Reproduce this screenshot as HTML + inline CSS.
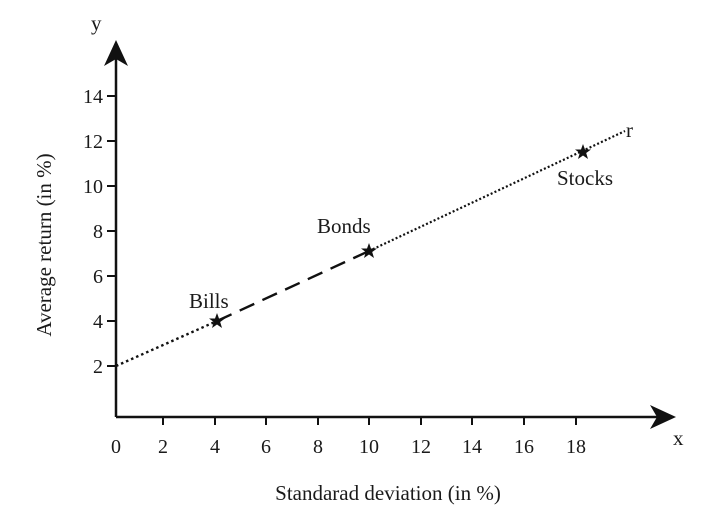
<!DOCTYPE html>
<html><head><style>body{margin:0;background:#fff}svg{display:block}text{font-family:"Liberation Serif",serif;fill:#1a1a1a}</style></head><body>
<svg width="719" height="528" viewBox="0 0 719 528">
<g stroke="#111" stroke-width="2.5" fill="none">
<line x1="116" y1="417" x2="116" y2="55"/>
<line x1="116" y1="417" x2="660" y2="417"/>
<g stroke-width="2">
<line x1="163" y1="417" x2="163" y2="425"/><line x1="215" y1="417" x2="215" y2="425"/><line x1="266" y1="417" x2="266" y2="425"/><line x1="318" y1="417" x2="318" y2="425"/><line x1="369" y1="417" x2="369" y2="425"/><line x1="421" y1="417" x2="421" y2="425"/><line x1="472" y1="417" x2="472" y2="425"/><line x1="524" y1="417" x2="524" y2="425"/><line x1="576" y1="417" x2="576" y2="425"/>
<line x1="107" y1="96" x2="116" y2="96"/><line x1="107" y1="141" x2="116" y2="141"/><line x1="107" y1="186" x2="116" y2="186"/><line x1="107" y1="231" x2="116" y2="231"/><line x1="107" y1="276" x2="116" y2="276"/><line x1="107" y1="321" x2="116" y2="321"/><line x1="107" y1="366" x2="116" y2="366"/>
</g>
</g>
<polygon points="116,40 104,66 116,59 128,66" fill="#111"/>
<polygon points="676,417 650,405 657,417 650,429" fill="#111"/>
<g stroke="#111" stroke-width="2.4" fill="none">
<line x1="116" y1="366" x2="217" y2="321" stroke-dasharray="2.5 3"/>
<line x1="217" y1="321" x2="369" y2="251" stroke-dasharray="16 9"/>
<line x1="369" y1="251" x2="625" y2="131" stroke-dasharray="2 2.2" stroke-width="2.2"/>
</g>
<g fill="#111">
<polygon transform="translate(217,321)" points="0,-8 2,-2.5 8,-2.5 3.2,1 5,7 0,3.5 -5,7 -3.2,1 -8,-2.5 -2,-2.5"/>
<polygon transform="translate(369,251)" points="0,-8 2,-2.5 8,-2.5 3.2,1 5,7 0,3.5 -5,7 -3.2,1 -8,-2.5 -2,-2.5"/>
<polygon transform="translate(583,152)" points="0,-8 2,-2.5 8,-2.5 3.2,1 5,7 0,3.5 -5,7 -3.2,1 -8,-2.5 -2,-2.5"/>
</g>
<g font-size="21">
<text x="189" y="308">Bills</text>
<text x="317" y="233">Bonds</text>
<text x="557" y="185">Stocks</text>
<text x="626" y="137">r</text>
<text x="91" y="30">y</text>
<text x="673" y="445">x</text>
</g>
<g font-size="20" text-anchor="middle">
<text x="116" y="453">0</text><text x="163" y="453">2</text><text x="215" y="453">4</text><text x="266" y="453">6</text><text x="318" y="453">8</text><text x="369" y="453">10</text><text x="421" y="453">12</text><text x="472" y="453">14</text><text x="524" y="453">16</text><text x="576" y="453">18</text>
</g>
<g font-size="20" text-anchor="end">
<text x="103" y="103">14</text><text x="103" y="148">12</text><text x="103" y="193">10</text><text x="103" y="238">8</text><text x="103" y="283">6</text><text x="103" y="328">4</text><text x="103" y="373">2</text>
</g>
<text x="388" y="500" font-size="21" text-anchor="middle">Standarad deviation (in %)</text>
<text transform="translate(51,245) rotate(-90)" font-size="21" text-anchor="middle">Average return (in %)</text>
</svg>
</body></html>
